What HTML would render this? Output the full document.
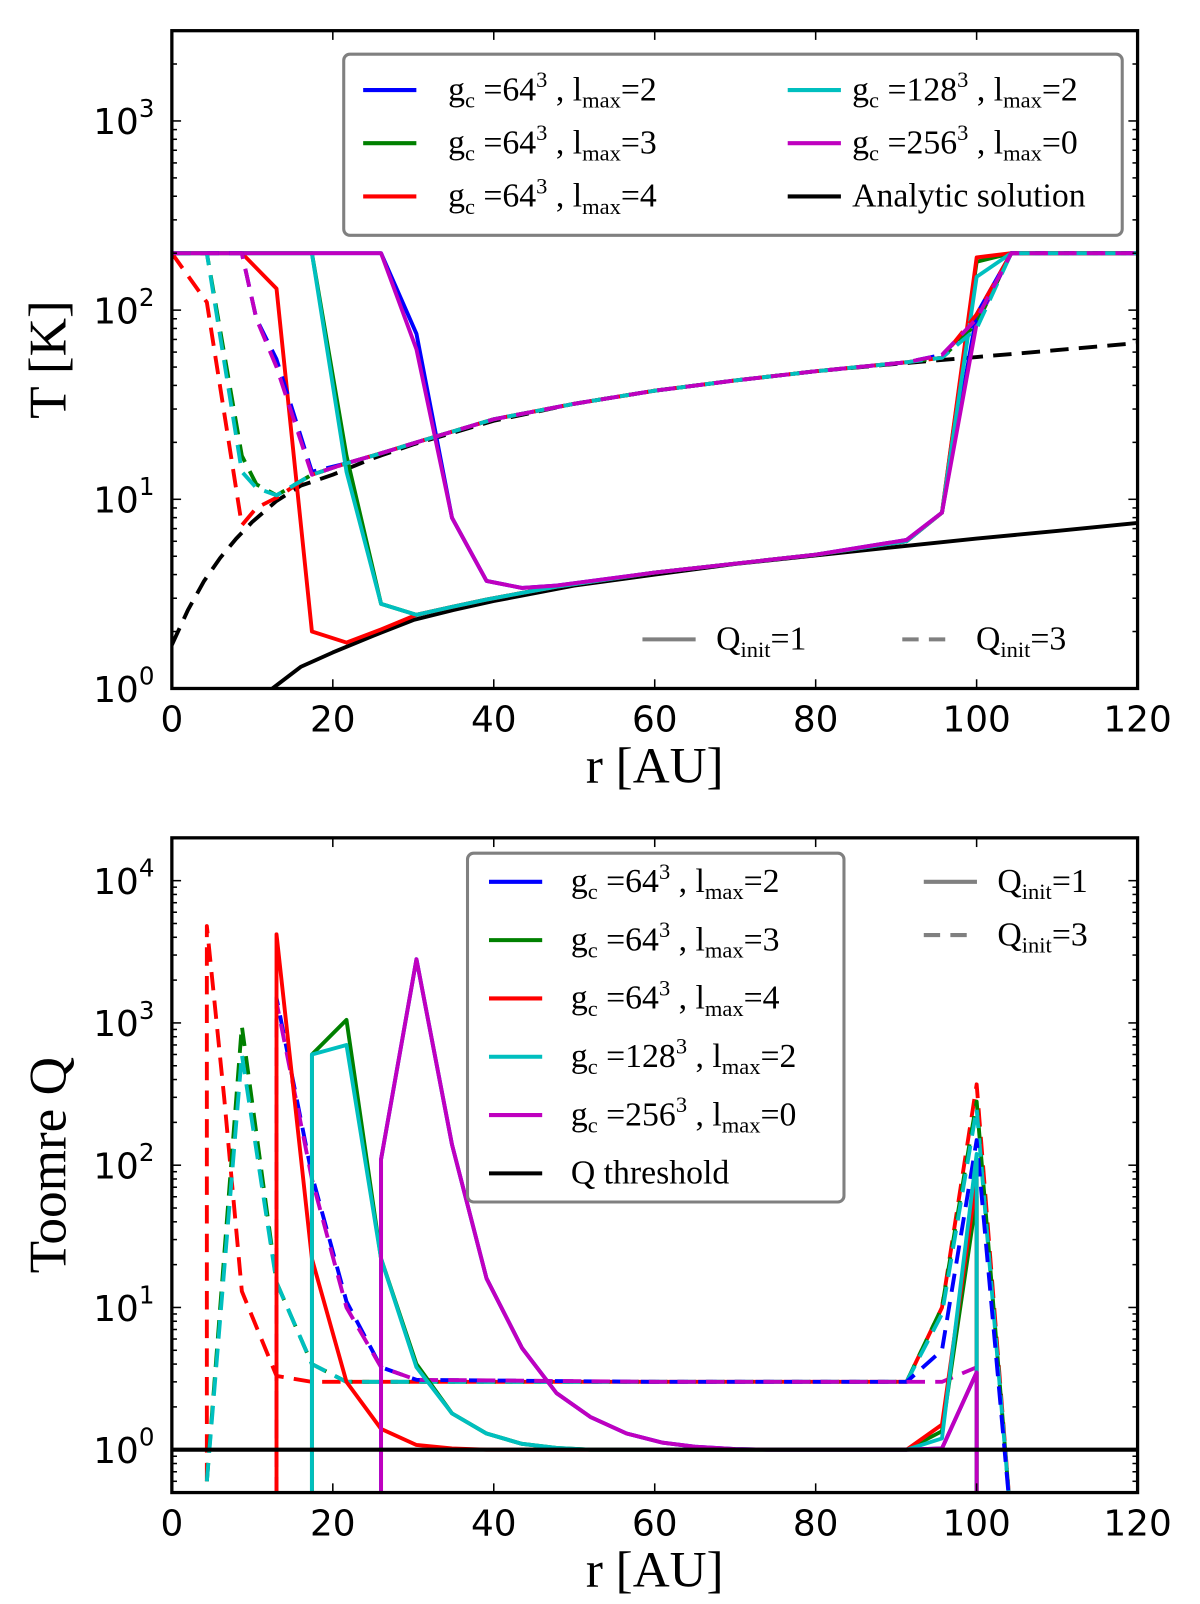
<!DOCTYPE html>
<html><head><meta charset="utf-8"><style>
html,body{margin:0;padding:0;background:#fff;}
svg{display:block;}
.tick{font-family:"DejaVu Sans","Liberation Sans",sans-serif;font-size:35px;fill:#000;}
.ser{font-family:"Liberation Serif",serif;fill:#000;}
</style></head><body>
<svg width="1200" height="1604" viewBox="0 0 1200 1604" xmlns="http://www.w3.org/2000/svg"><g id="fig" transform="scale(1.023)"></g></svg>
<script>
// ---- top panel data (T [K] vs r [AU]) ----
const tAnaR = [12.5,16,20,25,30,35,40,50,60,70,80,90,100,110,120];
const tAnaSolid = [1.0,1.3,1.55,1.9,2.3,2.6,2.9,3.5,4.0,4.55,5.05,5.6,6.2,6.8,7.5];
const tAnaDR = [0,2,4,6,8,10,13,16,20,25,30,40,50,60,70,80,90,100,110,120];
const tAnaDash = [1.7,2.6,3.7,4.9,6.2,7.6,9.8,11.8,13.5,16.5,19.5,26,32,37.5,42.5,47.5,52,56.5,61.5,67];
const tR = [0,4.35,8.7,13,17.4,21.7,26,30.4,34.8,39.1,43.5,47.8,60,80,91.3,95.7,100,104.3,120];
const tSolidBlue = [200,200,200,200,200,200,200,75,8,3.7,3.4,3.5,4.1,5.1,6.1,8.5,95,200,200];
const tSolidMag  = [200,200,200,200,200,200,200,62,8,3.7,3.4,3.5,4.1,5.1,6.1,8.5,85,200,200];
const tSolidGreen= [200,200,200,200,200,17,2.8,2.45,2.7,2.95,3.2,3.45,4.1,5.1,6.0,8.5,180,200,200];
const tSolidCyan = [200,200,200,200,200,14,2.8,2.45,2.7,2.95,3.2,3.45,4.1,5.1,6.0,8.5,150,200,200];
const tSolidRed  = [200,200,200,130,2.0,1.75,2.05,2.45,2.7,2.95,3.2,3.45,4.1,5.1,6.0,8.5,190,200,200];
const tDashR = [0,4.35,8.7,10.5,13,17.4,21.7,26,30.4,40,50,60,70,80,91.3,95.7,100,104.3,120];
const tDashRed  = [200,110,7.3,9,10.2,13.5,15.5,17.5,20,26.5,32,37.5,42.5,47.5,53,56,95,200,200];
const tDashGreen= [200,200,17,12,10.5,13.5,15.5,17.5,20,26.5,32,37.5,42.5,47.5,53,56,85,200,200];
const tDashCyan = [200,200,14,11.5,10.5,13.5,15.5,17.5,20,26.5,32,37.5,42.5,47.5,53,56,80,200,200];
const tDashBlue = [200,200,200,90,55,14,15.5,17.5,20,26.5,32,37.5,42.5,47.5,53,58,88,200,200];
const tDashMag  = [200,200,200,90,50,13.5,15.5,17.5,20,26.5,32,37.5,42.5,47.5,53,58,90,200,200];
// ---- bottom panel data (Toomre Q vs r) ----
const qSolidRedR = [13,13,17.4,21.7,26,30.4,34.8,39.1,60,91.3,95.7,100,100];
const qSolidRed  = [0.3,4200,22,3,1.4,1.08,1.02,1.0,1.0,1.0,1.5,80,0.3];
const qSolidGreenR = [17.4,17.4,21.7,26,30.4,34.8,39.1,43.5,47.8,52,70,91.3,95.7,100,100];
const qSolidGreen  = [0.3,600,1050,22,4,1.8,1.3,1.1,1.03,1.0,1.0,1.0,1.35,60,0.3];
const qSolidCyanR = [17.4,17.4,21.7,26,30.4,34.8,39.1,43.5,47.8,52,70,91.3,95.7,100,100];
const qSolidCyan  = [0.3,600,700,22,3.8,1.8,1.3,1.1,1.03,1.0,1.0,1.0,1.2,120,0.3];
const qSolidMagR = [26,26,30.4,34.8,39.1,43.5,47.8,52,56.5,61,65,70,74,91.3,95.7,100,100];
const qSolidMag  = [0.3,110,2800,140,16,5.2,2.5,1.7,1.3,1.12,1.05,1.01,1.0,1.0,1.02,3.5,0.3];
const qSolidBlue = qSolidMag;
const qDashRedR = [4.35,4.35,6.5,8.7,13,17.4,21.7,60,91.3,95.7,100,104.3];
const qDashRed  = [0.6,4800,300,13,3.3,3.0,3.0,3.0,3.0,10,370,0.3];
const qDashGreenR = [4.35,8.7,13,17.4,21.7,60,91.3,95.7,100,104.3];
const qDashGreen  = [0.6,950,15,4,3.0,3.0,3.0,10,280,0.3];
const qDashCyan   = [0.6,600,15,4,3.0,3.0,3.0,9,250,0.3];
const qDashBlueR = [13,13,17.4,21.7,26,30.4,60,91.3,95.7,100,104.3];
const qDashBlue  = [0.3,1500,85,11,3.8,3.1,3.0,3.0,5,150,0.3];
const qDashMagR = [13,13,17.4,21.7,26,30.4,60,91.3,95.7,100];
const qDashMag  = [0.3,1400,80,10,3.8,3.1,3.0,3.0,3.0,3.8];
const qThreshold = 1.0;
const xTicks = [0,20,40,60,80,100,120];

const NS='http://www.w3.org/2000/svg';
const svg=document.getElementById('fig');
function mk(tag,attrs,parent){const e=document.createElementNS(NS,tag);for(const k in attrs)e.setAttribute(k,attrs[k]);(parent||svg).appendChild(e);return e;}
const C={blue:'#0000ff',green:'#008000',red:'#ff0000',cyan:'#00bfbf',mag:'#bf00bf',black:'#000'};
const DASH='18,10';

function panel(P){
  const g=mk('g',{});
  
  
  const xs=r=>P.x0+(r-0)/(120-0)*(P.x1-P.x0);
  const ys=v=>P.y1-(Math.log10(v)-P.lmin)/(P.lmax-P.lmin)*(P.y1-P.y0);
  const clip='clip'+P.name;
  const cp=mk('clipPath',{id:clip},g);mk('rect',{x:P.x0,y:P.y0,width:P.x1-P.x0,height:P.y1-P.y0},cp);
  const plot=mk('g',{'clip-path':'url(#'+clip+')'},g);
  P.series.forEach(s=>{
    const pts=s.r.map((r,i)=>xs(r).toFixed(1)+','+ys(s.v[i]).toFixed(1)).join(' ');
    const pl=mk('polyline',{points:pts,fill:'none',stroke:s.c,'stroke-width':3.8,'stroke-linejoin':'round','stroke-dasharray':s.d?DASH:'none'},plot);
    
    
  });
  if(P.hline){const h=mk('line',{x1:P.x0,x2:P.x1,y1:ys(P.hline),y2:ys(P.hline),stroke:'#000','stroke-width':4},plot);
    }
  const fr=mk('rect',{x:P.x0,y:P.y0,width:P.x1-P.x0,height:P.y1-P.y0,fill:'none',stroke:'#000','stroke-width':3.2},g);
  
  xTicks.forEach(t=>{const x=xs(t);
    mk('line',{x1:x,x2:x,y1:P.y1,y2:P.y1-9,stroke:'#000','stroke-width':1.5},g);
    mk('line',{x1:x,x2:x,y1:P.y0,y2:P.y0+9,stroke:'#000','stroke-width':1.5},g);
    const tx=mk('text',{x:x,y:P.y1+42,'text-anchor':'middle',class:'tick'},g);tx.textContent=t;
    });
  for(let e=Math.floor(P.lmin);e<=Math.ceil(P.lmax);e++){
    for(let m=1;m<10;m++){const v=m*Math.pow(10,e);const lv=Math.log10(v);if(lv<P.lmin-1e-9||lv>P.lmax+1e-9)continue;
      const y=ys(v);const len=m===1?9:5;
      mk('line',{x1:P.x0,x2:P.x0+len,y1:y,y2:y,stroke:'#000','stroke-width':1.5},g);
      mk('line',{x1:P.x1,x2:P.x1-len,y1:y,y2:y,stroke:'#000','stroke-width':1.5},g);
      if(m===1){const tx=mk('text',{x:P.x0-17,y:y+13,'text-anchor':'end',class:'tick'},g);
        tx.textContent='10';const sp=mk('tspan',{dy:-17,'font-size':'24px'},tx);sp.textContent=String(e);
        }
    }
  }
  const xl=mk('text',{x:(P.x0+P.x1)/2,y:P.y1+92,'text-anchor':'middle',class:'ser','font-size':'50px'},g);
  xl.textContent='r [AU]';
  const yl=mk('text',{x:0,y:0,'text-anchor':'middle',class:'ser','font-size':'52px',transform:`translate(64,${(P.y0+P.y1)/2}) rotate(-90)`},g);
  yl.textContent=P.ylabel;
}
function gcLabel(g,x,y,n,l){
  const t=mk('text',{x:x,y:y,class:'ser','font-size':'33px'},g);
  t.innerHTML=`g<tspan font-size="22" dy="7">c</tspan><tspan dy="-7"> =${n}</tspan><tspan font-size="22" dy="-13">3</tspan><tspan dy="13"> , l</tspan><tspan font-size="22" dy="7">max</tspan><tspan dy="-7">=${l}</tspan>`;
  
  return t;
}
function entry(g,x,y,col,dash,name){
  const l=mk('line',{x1:x,x2:x+52,y1:y,y2:y,stroke:col,'stroke-width':4,'stroke-dasharray':dash?'16,10':'none'},g);
  
}
function qinit(g,x,y,dash,val){
  entry(g,x,y,'#808080',dash,'qinit-'+val);
  const t=mk('text',{x:x+72,y:y+10,class:'ser','font-size':'33px'},g);
  t.innerHTML=`Q<tspan font-size="22" dy="7">init</tspan><tspan dy="-7">=${val}</tspan>`;
  
}

panel({name:'temperature-panel',x0:168,x1:1112,y0:30,y1:673,lmin:0,lmax:Math.log10(3000),ylabel:'T [K]',series:[
 {n:'t-ana-dash',r:tAnaDR,v:tAnaDash,c:C.black,d:1},
 {n:'t-ana-solid',r:tAnaR,v:tAnaSolid,c:C.black,d:0},
 {n:'t-solid-blue',r:tR,v:tSolidBlue,c:C.blue},
 {n:'t-solid-green',r:tR,v:tSolidGreen,c:C.green},
 {n:'t-solid-red',r:tR,v:tSolidRed,c:C.red},
 {n:'t-solid-cyan',r:tR,v:tSolidCyan,c:C.cyan},
 {n:'t-solid-mag',r:tR,v:tSolidMag,c:C.mag},
 {n:'t-dash-blue',r:tDashR,v:tDashBlue,c:C.blue,d:1},
 {n:'t-dash-green',r:tDashR,v:tDashGreen,c:C.green,d:1},
 {n:'t-dash-red',r:tDashR,v:tDashRed,c:C.red,d:1},
 {n:'t-dash-cyan',r:tDashR,v:tDashCyan,c:C.cyan,d:1},
 {n:'t-dash-mag',r:tDashR,v:tDashMag,c:C.mag,d:1}
]});
panel({name:'toomre-panel',x0:168,x1:1112,y0:819,y1:1459,lmin:Math.log10(0.5),lmax:Math.log10(20000),ylabel:'Toomre Q',hline:qThreshold,series:[
 {n:'q-dash-red',r:qDashRedR,v:qDashRed,c:C.red,d:1},
 {n:'q-dash-green',r:qDashGreenR,v:qDashGreen,c:C.green,d:1},
 {n:'q-dash-cyan',r:qDashGreenR,v:qDashCyan,c:C.cyan,d:1},
 {n:'q-dash-blue',r:qDashBlueR,v:qDashBlue,c:C.blue,d:1},
 {n:'q-dash-mag',r:qDashMagR,v:qDashMag,c:C.mag,d:1},
 {n:'q-solid-blue',r:qSolidMagR,v:qSolidBlue,c:C.blue},
 {n:'q-solid-green',r:qSolidGreenR,v:qSolidGreen,c:C.green},
 {n:'q-solid-red',r:qSolidRedR,v:qSolidRed,c:C.red},
 {n:'q-solid-cyan',r:qSolidCyanR,v:qSolidCyan,c:C.cyan},
 {n:'q-solid-mag',r:qSolidMagR,v:qSolidMag,c:C.mag}
]});

const lg1=mk('g',{});
mk('rect',{x:336,y:53,width:761,height:177,rx:6,fill:'#fff',stroke:'#808080','stroke-width':3},lg1);
[[C.blue,'64','2'],[C.green,'64','3'],[C.red,'64','4']].forEach((e,i)=>{const y=88+i*52;entry(lg1,355,y,e[0],0,'legend-'+i);gcLabel(lg1,438,y+10,e[1],e[2]);});
[[C.cyan,'128','2'],[C.mag,'256','0']].forEach((e,i)=>{const y=88+i*52;entry(lg1,770,y,e[0],0,'legend-b'+i);gcLabel(lg1,833,y+10,e[1],e[2]);});
entry(lg1,770,192,C.black,0,'legend-analytic');
const an=mk('text',{x:833,y:202,class:'ser','font-size':'33px'},lg1);an.textContent='Analytic solution';

const lq1=mk('g',{});
qinit(lq1,628,625,0,1);qinit(lq1,882,625,1,3);

const lg2=mk('g',{});
mk('rect',{x:457,y:834,width:368,height:341,rx:6,fill:'#fff',stroke:'#808080','stroke-width':3},lg2);
[[C.blue,'64','2'],[C.green,'64','3'],[C.red,'64','4'],[C.cyan,'128','2'],[C.mag,'256','0']].forEach((e,i)=>{const y=862+i*57;entry(lg2,478,y,e[0],0,'legend-q'+i);gcLabel(lg2,558,y+10,e[1],e[2]);});
entry(lg2,478,1147,C.black,0,'legend-threshold');
const qt=mk('text',{x:558,y:1157,class:'ser','font-size':'33px'},lg2);qt.textContent='Q threshold';

const lq2=mk('g',{});
qinit(lq2,903,862,0,1);qinit(lq2,903,914,1,3);
</script>
</body></html>
